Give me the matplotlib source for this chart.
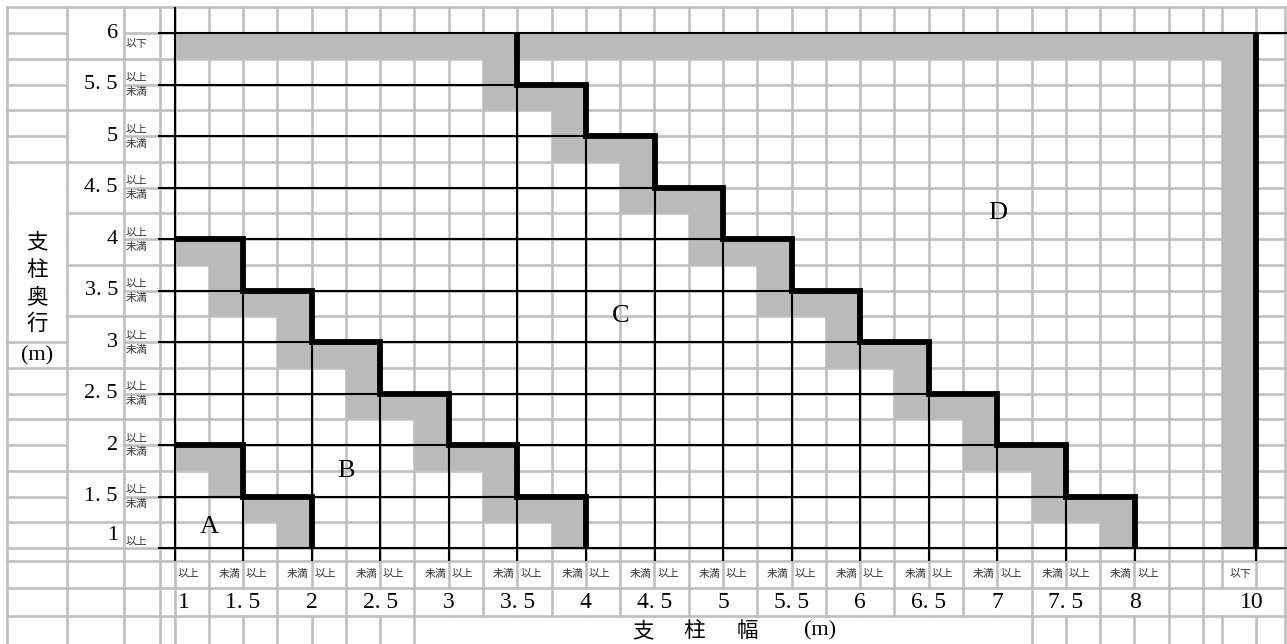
import numpy as np
import matplotlib
matplotlib.use("Agg")
import matplotlib.pyplot as plt
from matplotlib import transforms
from matplotlib.collections import LineCollection
from matplotlib.patches import Rectangle
from matplotlib.ticker import NullLocator

# ---------------- data ----------------
depth_values = [1, 1.5, 2, 2.5, 3, 3.5, 4, 4.5, 5, 5.5, 6]                 # 支柱奥行 (m)
width_values = [1, 1.5, 2, 2.5, 3, 3.5, 4, 4.5, 5, 5.5, 6, 6.5, 7, 7.5, 8, 10]  # 支柱幅 (m)

depth_title = ["支", "柱", "奥", "行"]
width_title = ["支", "柱", "幅"]
unit_label = "(m)"
q_ge, q_lt, q_le = "以上", "未満", "以下"

# zone boundaries (staircases): start x, riser x positions, levels
ab_start, ab_risers, ab_levels = 1, [1.5, 2], [2, 1.5, 1]
bc_start, bc_risers, bc_levels = 1, [1.5, 2, 2.5, 3, 3.5, 4], [4, 3.5, 3, 2.5, 2, 1.5, 1]
cd_start = 3.5
cd_risers = [3.5, 4, 4.5, 5, 5.5, 6, 6.5, 7, 7.5, 8]
cd_levels = [6, 5.5, 5, 4.5, 4, 3.5, 3, 2.5, 2, 1.5, 1]

zone_names = ["A", "B", "C", "D"]
zone_x = [1.25, 2.25, 4.25, 7.0]
zone_y = [1.2, 1.75, 3.25, 4.25]

# ---------------- layout / style ----------------
W, H = 1287, 644
CELL = 0.25
X_DATA_KNOTS = [1, 8, 9.5, 10]
X_PX_KNOTS = [174.5, 1134.5, 1222, 1256]
Y_PX_1, Y_PX_PER_M = 548, 103
GRID_C = "#c0c0c0"
SHADE_C = "#bababa"
THIN, THICK = 1.5, 4.2
CJK = ["Noto Sans CJK JP", "DejaVu Sans"]
SERIF = ["Liberation Serif", "DejaVu Serif"]
SMALL = 7.8

sl = (X_PX_KNOTS[1] - X_PX_KNOTS[0]) / (X_DATA_KNOTS[1] - X_DATA_KNOTS[0])
xk = np.array([-50] + X_DATA_KNOTS + [60], float)
pk = np.array([X_PX_KNOTS[0] - 51 * sl] + X_PX_KNOTS + [X_PX_KNOTS[-1] + 50 * 68], float)


def fwd(v):
    return np.interp(v, xk, pk)


def inv(p):
    return np.interp(p, pk, xk)


fig = plt.figure(figsize=(W / 100, H / 100), dpi=100)
fig.patch.set_facecolor("white")

# background "paper" grid axes in pixel units
bg = fig.add_axes([0, 0, 1, 1])
bg.set_xlim(0, W)
bg.set_ylim(H, 0)
bg.axis("off")

rows = [33 + 25.75 * k for k in range(-1, 21)] + [561, 588, 616]
row_bottom = 644
main_cols = [174.5 + 34.2857 * j for j in range(31)] + [1222, 1256, 1285]
left_cols = [7, 67, 124, 160]
cols = left_cols + main_cols
rows_all = rows + [row_bottom]

segs = []
# horizontal paper lines
for ri, y in enumerate(rows):
    k = ri - 1
    for c in range(len(cols) - 1):
        if c == 0 and 6 <= k <= 11:
            continue
        if c == 1 and 0 <= k <= 18 and k % 2 == 0:
            continue
        segs.append([(cols[c], y), (cols[c + 1], y)])
# vertical paper lines
for ci, x in enumerate(cols):
    j = ci - len(left_cols)
    for r in range(len(rows_all) - 1):
        y0, y1 = rows_all[r], rows_all[r + 1]
        if y0 == 588:
            if (2 <= j <= 28 and j % 2 == 0) or x in (1222, 1256):
                continue
        if y0 == 616 and 8 <= j <= 24:
            continue
        segs.append([(x, y0), (x, y1)])
bg.add_collection(LineCollection(segs, colors=GRID_C, linewidths=1.9, capstyle="projecting"))

# data axes
ax = fig.add_axes([0, 0, 1, 1], zorder=2)
ax.patch.set_alpha(0)
ax.set_xscale("function", functions=(fwd, inv))
ax.set_xlim(inv(0), inv(W))
ax.set_ylim(1 - (H - Y_PX_1) / Y_PX_PER_M, 1 + Y_PX_1 / Y_PX_PER_M)
for s in ax.spines.values():
    s.set_visible(False)
ax.spines["left"].set_position(("data", width_values[0]))
ax.spines["bottom"].set_position(("data", depth_values[0]))
ax.set_xticks(width_values)
ax.set_yticks(depth_values)
ax.xaxis.set_minor_locator(NullLocator())
ax.yaxis.set_minor_locator(NullLocator())
ax.tick_params(axis="x", direction="out", length=9.4, width=THIN, color="black",
               labelbottom=False, top=False)
ax.tick_params(axis="y", direction="out", length=11.9, width=THIN, color="black",
               labelleft=False, right=False)
xmin_d, xmax_d = ax.get_xlim()
x_lo, x_hi = width_values[0], width_values[-1]
y_lo, y_hi = depth_values[0], depth_values[-1]

# shading
shade = []
shade.append((x_lo, y_hi - CELL, x_hi - x_lo, CELL))          # top band
shade.append((x_hi - 2 * CELL, y_lo, 2 * CELL, y_hi - y_lo))  # right band


def stair_shade(start, risers, levels, ext):
    out = []
    prev = start
    for i, r in enumerate(risers):
        top, bot = levels[i], levels[i + 1]
        if r > prev:
            out.append((prev, top - CELL, r - prev, CELL))
        lo = max(y_lo, bot - ext)
        out.append((r - CELL, lo, CELL, top - lo))
        prev = r
    return out


shade += stair_shade(ab_start, ab_risers, ab_levels, 0)
shade += stair_shade(bc_start, bc_risers, bc_levels, CELL)
shade += stair_shade(cd_start, cd_risers, cd_levels, CELL)
for (x, y, w, h) in shade:
    ax.add_patch(Rectangle((x, y), w, h, facecolor=SHADE_C, edgecolor="none", zorder=2))

# thin horizontal lines
for v in depth_values:
    if v in (y_lo, y_hi):
        end = xmax_d
    else:
        i = cd_levels.index(v)
        end = cd_risers[i] if i < len(cd_risers) else xmax_d
    ax.plot([x_lo, end], [v, v], color="black", lw=THIN, zorder=3, solid_capstyle="butt")

# thin vertical lines
stairs = [(ab_risers, ab_levels), (bc_risers, bc_levels), (cd_risers, cd_levels)]
for u in width_values[1:-1]:
    tops = [lv[i] for rs, lv in stairs for i, r in enumerate(rs) if r == u]
    top = max(tops) if tops else y_lo
    ax.plot([u, u], [y_lo, top], color="black", lw=THIN, zorder=3, solid_capstyle="butt")
ax.plot([x_lo, x_lo], [y_lo, y_hi + CELL], color="black", lw=THIN, zorder=3, solid_capstyle="butt")


# thick lines
def stair_path(start, risers, levels):
    xs, ys = [start], [levels[0]]
    for i, r in enumerate(risers):
        xs += [r, r]
        ys += [levels[i], levels[i + 1]]
    return xs, ys


for st in [(ab_start, ab_risers, ab_levels), (bc_start, bc_risers, bc_levels),
           (cd_start, cd_risers, cd_levels)]:
    xs, ys = stair_path(*st)
    ax.plot(xs, ys, color="black", lw=THICK, zorder=4, solid_joinstyle="miter",
            solid_capstyle="butt")
ax.plot([x_hi, x_hi], [y_lo, y_hi], color="black", lw=THICK, zorder=4, solid_capstyle="butt")


def fmt(v):
    s = f"{v:g}"
    return s.replace(".", ". ")


px_x_data_y = transforms.blended_transform_factory(bg.transData, ax.transData)
data_x_px_y = transforms.blended_transform_factory(ax.transData, bg.transData)

# depth (y) labels
for v in depth_values:
    yy = v + CELL / 2 if v == y_lo else v
    ax.text(118, yy, fmt(v), transform=px_x_data_y, ha="right", va="center",
            fontsize=16, family=SERIF, zorder=5)
    if v == y_hi:
        ax.annotate(q_le, (126, v), xycoords=px_x_data_y, xytext=(0, -4),
                    textcoords="offset points", ha="left", va="top", fontsize=SMALL,
                    family=CJK, color="#333333")
    else:
        ax.annotate(q_ge, (126, v), xycoords=px_x_data_y, xytext=(0, 1.2),
                    textcoords="offset points", ha="left", va="bottom", fontsize=SMALL,
                    family=CJK, color="#333333")
        if v != y_lo:
            ax.annotate(q_lt, (126, v), xycoords=px_x_data_y, xytext=(0, -1.8),
                        textcoords="offset points", ha="left", va="top", fontsize=SMALL,
                        family=CJK, color="#333333")

# width (x) labels
for u in width_values:
    if u == x_hi:
        ax.annotate(q_le, (u, 574), xycoords=data_x_px_y, xytext=(-3, 0),
                    textcoords="offset points", ha="right", va="center", fontsize=SMALL,
                    family=CJK, color="#333333")
    else:
        ax.annotate(q_ge, (u, 574), xycoords=data_x_px_y, xytext=(2.0, 0),
                    textcoords="offset points", ha="left", va="center", fontsize=SMALL,
                    family=CJK, color="#333333")
        if u != x_lo:
            ax.annotate(q_lt, (u, 574), xycoords=data_x_px_y, xytext=(-2.0, 0),
                        textcoords="offset points", ha="right", va="center", fontsize=SMALL,
                        family=CJK, color="#333333")
    dx = 7 if u == x_lo else (-3 if u == x_hi else 0)
    ax.annotate(fmt(u), (u, 603), xycoords=data_x_px_y, xytext=(dx, 0),
                textcoords="offset points", ha="center", va="center", fontsize=17,
                family=SERIF)

# titles
for ch, yp in zip(depth_title, [242, 270, 297, 324]):
    bg.text(37, yp, ch, ha="center", va="center", fontsize=15.5, family=CJK)
bg.text(37, 356, unit_label, ha="center", va="center", fontsize=16, family=SERIF)
for ch, xp in zip(width_title, [643, 694, 747]):
    bg.text(xp, 631, ch, ha="center", va="center", fontsize=15.5, family=CJK)
bg.text(820, 631, unit_label, ha="center", va="center", fontsize=16, family=SERIF)

# zone letters
for name, zx, zy in zip(zone_names, zone_x, zone_y):
    ax.text(zx, zy, name, ha="center", va="center", fontsize=19, family=SERIF, zorder=5)

fig.savefig("out.png", dpi=100, facecolor="white")
